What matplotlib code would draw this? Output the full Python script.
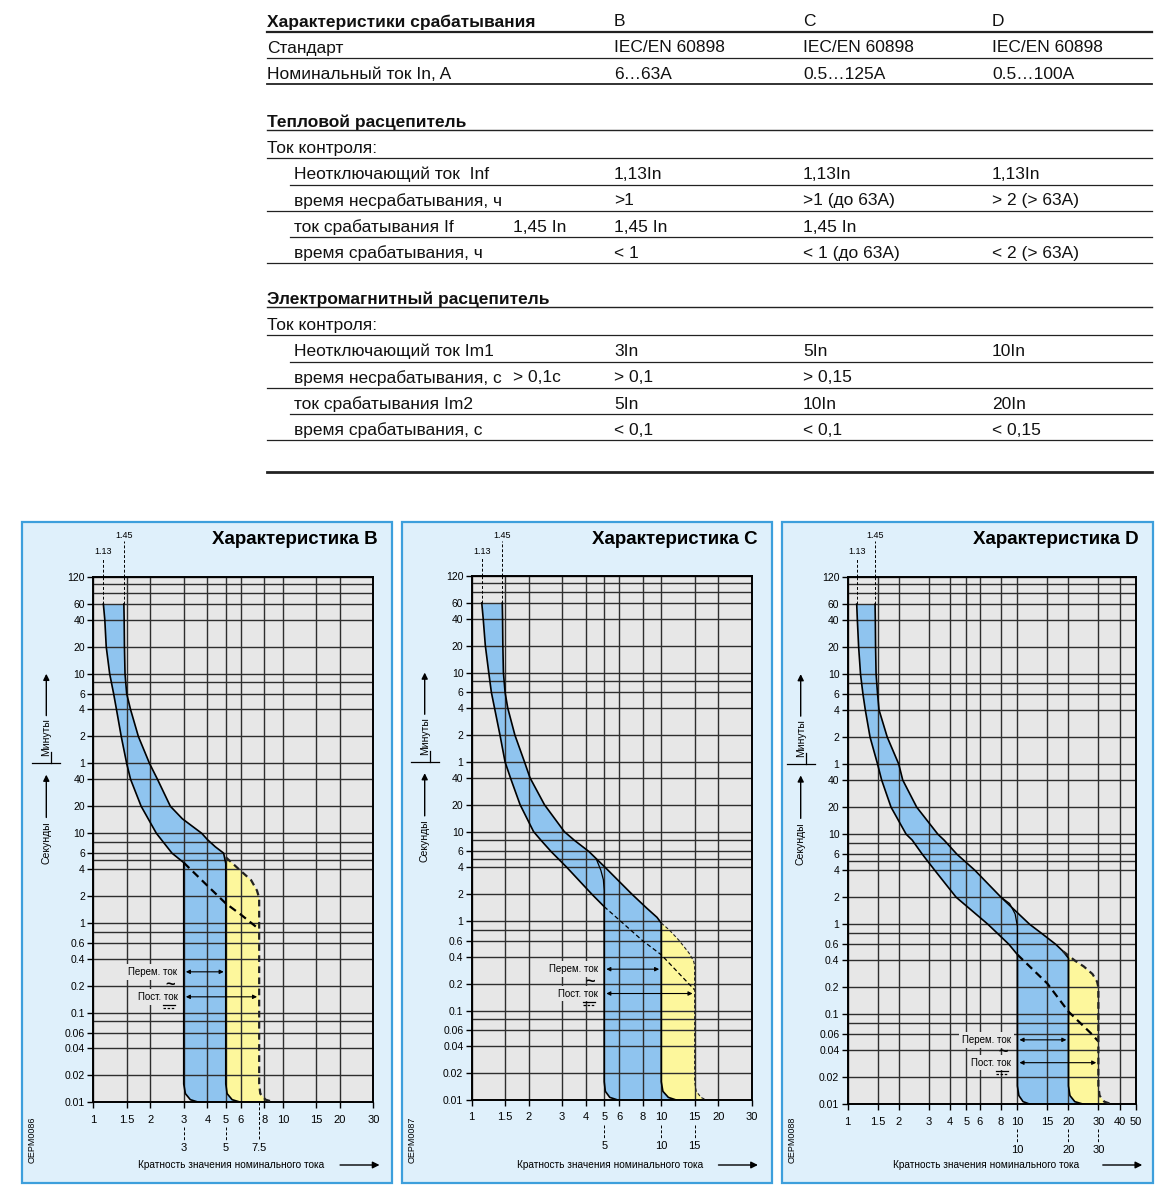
import numpy as np
import matplotlib
matplotlib.use('Agg')
import matplotlib.pyplot as plt
from matplotlib import transforms
from matplotlib.lines import Line2D
from matplotlib.patches import Rectangle, FancyArrowPatch
from matplotlib.ticker import FixedLocator, FixedFormatter, NullLocator, NullFormatter

W, H = 1174, 1200
plt.rcParams['font.family'] = ['Liberation Sans', 'DejaVu Sans']
TAB_FONT = ['Liberation Sans Narrow', 'Liberation Sans', 'DejaVu Sans']

# ---------------- table ----------------
tab_head = 'Характеристики срабатывания'
tab_cols = ['B', 'C', 'D']
gen_labels = ['Стандарт', 'Номинальный ток In, A']
gen_vals = [['IEC/EN 60898', 'IEC/EN 60898', 'IEC/EN 60898'],
            ['6…63A', '0.5…125A', '0.5…100A']]

th_title = 'Тепловой расцепитель'
th_labels = ['Неотключающий ток  Inf', 'время несрабатывания, ч',
             'ток срабатывания If', 'время срабатывания, ч']
th_extra = ['', '', '1,45 In', '']
th_vals = [['1,13In', '1,13In', '1,13In'],
           ['>1', '>1 (до 63A)', '> 2 (> 63A)'],
           ['1,45 In', '1,45 In', ''],
           ['< 1', '< 1 (до 63A)', '< 2 (> 63A)']]

em_title = 'Электромагнитный расцепитель'
em_labels = ['Неотключающий ток Im1', 'время несрабатывания, с',
             'ток срабатывания Im2', 'время срабатывания, с']
em_extra = ['', '> 0,1c', '', '']
em_vals = [['3In', '5In', '10In'],
           ['> 0,1', '> 0,15', ''],
           ['5In', '10In', '20In'],
           ['< 0,1', '< 0,1', '< 0,15']]
ctrl_label = 'Ток контроля:'

# ---------------- chart axes (x = I/In, t in seconds) ----------------
y_major = [7200, 3600, 2400, 1200, 600, 360, 240, 120, 60, 40, 20, 10, 6, 4, 2, 1,
           0.6, 0.4, 0.2, 0.1, 0.06, 0.04, 0.02, 0.01]
y_major_labels = ['120', '60', '40', '20', '10', '6', '4', '2', '1', '40', '20', '10',
                  '6', '4', '2', '1', '0.6', '0.4', '0.2', '0.1', '0.06', '0.04', '0.02', '0.01']
y_minor = [6000, 4800, 480, 8, 5, 0.8, 0.08]

x_ticks_bc = [1, 1.5, 2, 3, 4, 5, 6, 8, 10, 15, 20, 30]
x_ticks_d = [1, 1.5, 2, 3, 4, 5, 6, 8, 10, 15, 20, 30, 40, 50]

thermal_marks = [1.13, 1.45]

# --- characteristic B ---
b_left_x = [1.13, 1.15, 1.17, 1.22, 1.28, 1.325, 1.404, 1.5, 1.572, 1.788, 2.15, 2.6, 3.0,
            3.0, 3.06, 3.25, 3.6]
b_left_t = [3600, 2400, 1200, 600, 360, 240, 120, 60, 40, 20, 10, 6, 4.7,
            0.016, 0.0125, 0.0107, 0.01]
b_right_x = [1.45, 1.455, 1.46, 1.47, 1.5, 1.572, 1.729, 1.98, 2.18, 2.55, 2.95, 3.73, 4.0, 4.4,
             4.87, 5.0, 5.0, 5.08, 5.4, 6.0]
b_right_t = [3600, 2400, 1200, 600, 360, 240, 120, 60, 40, 20, 14.5, 10, 8.5, 7.07,
             6, 4.6, 0.016, 0.0125, 0.0107, 0.01]
b_dc_x = [5.0, 6.0, 6.8, 7.3, 7.5, 7.5, 7.6, 8.1, 9.0]
b_dc_t = [5.4, 3.8, 3.0, 2.3, 1.9, 0.016, 0.0125, 0.0107, 0.01]
b_dash_x = [3, 4, 5, 6, 7.5]
b_dash_t = [4.7, 2.6, 1.65, 1.24, 0.85]
b_marks = [3, 5, 7.5]
b_mark_labels = ['3', '5', '7.5']
b_arrow_t = [0.285, 0.15]

# --- characteristic C ---
c_left_x = [1.13, 1.15, 1.18, 1.23, 1.27, 1.32, 1.41, 1.5, 1.6, 1.8, 2.12, 2.32, 2.62, 3.17, 4.3,
            5.0, 5.0, 5.07, 5.35, 5.9]
c_left_t = [3600, 2400, 1200, 600, 360, 240, 120, 60, 40, 20, 10, 8, 6, 4, 2,
            1.45, 0.016, 0.0125, 0.0107, 0.01]
c_right_x = [1.45, 1.455, 1.46, 1.47, 1.5, 1.55, 1.69, 1.9, 2.03, 2.42, 3.08, 3.48, 4.15, 5.05, 7.0,
             8.4, 9.5, 10.0, 10.0, 10.2, 10.9, 12.0]
c_right_t = [3600, 2400, 1200, 600, 360, 240, 120, 60, 40, 20, 10, 8, 6, 4, 2,
             1.39, 1.1, 0.95, 0.016, 0.0125, 0.0107, 0.01]
c_inner_x = [4.55, 4.8, 4.95, 5.0, 5.0]
c_inner_t = [4.9, 3.7, 2.9, 2.2, 1.45]
c_dc_x = [10.0, 11.0, 12.4, 14.0, 14.8, 15.0, 15.0, 15.3, 16.2, 17.3]
c_dc_t = [0.95, 0.8, 0.61, 0.44, 0.36, 0.32, 0.016, 0.0125, 0.0107, 0.01]
c_dash_x = [5, 8, 10, 15]
c_dash_t = [1.45, 0.6, 0.42, 0.17]
c_marks = [5, 10, 15]
c_mark_labels = ['5', '10', '15']
c_arrow_t = [0.29, 0.155]

# --- characteristic D ---
d_left_x = [1.13, 1.14, 1.16, 1.19, 1.23, 1.27, 1.354, 1.5, 1.585, 1.8, 2.21, 2.4, 2.75, 3.25,
            4.35, 6.7, 8.9, 10.0, 10.0, 10.2, 10.8, 11.9]
d_left_t = [3600, 2400, 1200, 600, 360, 240, 120, 60, 40, 20, 10, 8.6, 6, 4, 2,
            1, 0.6, 0.46, 0.016, 0.0125, 0.0107, 0.01]
d_right_x = [1.45, 1.455, 1.46, 1.47, 1.5, 1.53, 1.71, 2.0, 2.11, 2.55, 3.4, 3.7, 4.4, 5.6, 8.0,
             11.8, 13.8, 16.8, 18.6, 20.0, 20.0, 20.4, 21.8, 24.6]
d_right_t = [3600, 2400, 1200, 600, 360, 240, 120, 60, 40, 20, 10, 8.6, 6, 4, 2,
             1, 0.8, 0.6, 0.5, 0.42, 0.016, 0.0125, 0.0107, 0.01]
d_inner_x = [8.0, 9.0, 9.7, 10.0, 10.0]
d_inner_t = [2.0, 1.7, 1.3, 0.95, 0.46]
d_dc_x = [18.6, 22.0, 24.6, 27.7, 29.5, 30.0, 30.0, 30.5, 32.5, 36.0]
d_dc_t = [0.5, 0.39, 0.34, 0.28, 0.23, 0.2, 0.016, 0.0125, 0.0107, 0.01]
d_dash_x = [10, 15, 20, 27, 30]
d_dash_t = [0.46, 0.22, 0.107, 0.062, 0.05]
d_marks = [10, 20, 30]
d_mark_labels = ['10', '20', '30']
d_arrow_t = [0.052, 0.029]

PANEL_BG = '#dff0fb'
PANEL_EDGE = '#3d9fdc'
PLOT_BG = '#e7e7e7'
GRID = '#2e2e2e'
BLUE = '#8fc4ef'
YELLOW = '#fdf79c'

fig = plt.figure(figsize=(W / 100, H / 100), dpi=100)


def fx(x):
    return x / W


def fy(y):
    return 1 - y / H


def fig_line(x0, y0, x1, y1, lw=1.0, color='#222222'):
    fig.add_artist(Line2D([fx(x0), fx(x1)], [fy(y0), fy(y1)], lw=lw, color=color,
                          transform=fig.transFigure))


def ttext(x, y, s, bold=False):
    fig.text(fx(x), fy(y), s, ha='left', va='center', fontsize=12.5, family=TAB_FONT,
             weight='bold' if bold else 'normal', color='#111111')


# ---- table drawing ----
TX, TI, TE, TR = 267, 294, 513, 1152
col_x = [614, 803, 992]

ttext(TX, 22, tab_head, bold=True)
for cx, c in zip(col_x, tab_cols):
    ttext(cx, 22, c)
fig_line(TX, 31.5, TR, 31.5, lw=1.6)
for i, (lab, vals) in enumerate(zip(gen_labels, gen_vals)):
    y = 48 + i * 26.3
    ttext(TX, y, lab)
    for cx, v in zip(col_x, vals):
        ttext(cx, y, v)
    fig_line(TX, y + 10, TR, y + 10, lw=1.3 if i == 1 else 0.9)


def section(y0, title, labels, extra, vals):
    ttext(TX, y0, title, bold=True)
    fig_line(TX, y0 + 8, TR, y0 + 8, lw=1.0)
    ttext(TX, y0 + 26.3, ctrl_label)
    fig_line(TX, y0 + 36, TR, y0 + 36, lw=0.9)
    for i, (lab, ex, vv) in enumerate(zip(labels, extra, vals)):
        y = y0 + 52.5 + i * 26.3
        ttext(TI, y, lab)
        if ex:
            ttext(TE, y, ex)
        for cx, v in zip(col_x, vv):
            if v:
                ttext(cx, y, v)
        fig_line(TI - 4 if i % 2 == 0 else TX, y + 10, TR, y + 10, lw=0.9)


section(122, th_title, th_labels, th_extra, th_vals)
section(299, em_title, em_labels, em_extra, em_vals)
fig_line(TX, 472, TR, 472, lw=2.0)


# ---- charts ----
def draw_chart(panel, box, title, code, xmax, xticks, left, right, dc, dash, inner,
               marks, mark_labels, arrow_t, heavy):
    p0, q0, p1, q1 = panel
    fig.add_artist(Rectangle((fx(p0), fy(q1)), fx(p1) - fx(p0), fy(q0) - fy(q1),
                             transform=fig.transFigure, fc=PANEL_BG, ec=PANEL_EDGE,
                             lw=1.6, zorder=-1))
    a0, b0, a1, b1 = box
    ax = fig.add_axes([fx(a0), fy(b1), fx(a1) - fx(a0), fy(b0) - fy(b1)])
    ax.set_xscale('log')
    ax.set_yscale('log')
    ax.set_xlim(1, xmax)
    ax.set_ylim(0.01, 7200)
    ax.set_facecolor(PLOT_BG)
    ax.xaxis.set_major_locator(FixedLocator(xticks))
    ax.xaxis.set_major_formatter(FixedFormatter([f'{v:g}' for v in xticks]))
    ax.xaxis.set_minor_locator(NullLocator())
    ax.yaxis.set_major_locator(FixedLocator(y_major))
    ax.yaxis.set_major_formatter(FixedFormatter(y_major_labels))
    ax.yaxis.set_minor_locator(FixedLocator(y_minor))
    ax.yaxis.set_minor_formatter(NullFormatter())
    ax.grid(True, which='both', color=GRID, lw=1.0)
    ax.tick_params(which='minor', length=0)
    ax.tick_params(axis='x', which='major', length=4, width=1, labelsize=8, pad=5)
    ax.tick_params(axis='y', which='major', length=4, width=1, labelsize=7.5, pad=2)
    for s in ax.spines.values():
        s.set_linewidth(1.4)

    lx, lt = left
    rx, rt = right
    dx, dt = dc
    ax.fill(list(lx) + list(rx)[::-1], list(lt) + list(rt)[::-1], color=BLUE, lw=0, zorder=1)
    yx, yt = list(dx), list(dt)
    for x, t in reversed(list(zip(rx, rt))):
        if t < dt[0]:
            yx.append(x)
            yt.append(t)
    ax.fill(yx, yt, color=YELLOW, lw=0, zorder=1)

    ax.plot(lx, lt, color='k', lw=1.2, zorder=3, solid_joinstyle='round')
    ax.plot(rx, rt, color='k', lw=1.2, zorder=3, solid_joinstyle='round')
    if inner is not None:
        ax.plot(inner[0], inner[1], color='k', lw=0.9, zorder=3)
    dlw = 1.6 if heavy else 0.9
    ax.plot(dash[0], dash[1], color='k', lw=dlw, ls=(0, (3.5, 2.2)), zorder=3)
    ax.plot(dx, dt, color='#222222', lw=dlw if heavy else 0.8, ls=(0, (3, 2)), zorder=3)

    # 1.13 / 1.45 markers above the plot
    xtr = transforms.blended_transform_factory(ax.transData, fig.transFigure)
    for xm, lab_y, top_y in zip(thermal_marks, [551, 535], [558, 541]):
        ax.plot([xm, xm], [3600, 7200], color='k', lw=0.7, ls=(0, (3, 2)), zorder=3)
        ax.plot([xm, xm], [fy(b0), fy(top_y)], color='k', lw=0.7, ls=(0, (3, 2)),
                transform=xtr, clip_on=False)
        ax.text(xm, fy(lab_y), f'{xm:.2f}', transform=xtr, ha='center', va='center', fontsize=6.5)

    # instantaneous-trip markers below the axis
    for xm, lab in zip(marks, mark_labels):
        start = b1 + 25 if xm in xticks else b1
        ax.plot([xm, xm], [fy(start), fy(b1 + 38)], color='k', lw=0.7, ls=(0, (3, 2)),
                transform=xtr, clip_on=False)
        ax.text(xm, fy(b1 + 46), lab, transform=xtr, ha='center', va='center', fontsize=8)

    # AC / DC arrows and their labels
    t_ac, t_dc = arrow_t
    x_m1 = marks[0]
    ap = dict(arrowstyle='<|-|>', color='k', lw=0.8, shrinkA=1.5, shrinkB=1.5, mutation_scale=6)
    ax.annotate('', xy=(marks[1], t_ac), xytext=(x_m1, t_ac), arrowprops=ap, zorder=4)
    ax.annotate('', xy=(marks[2], t_dc), xytext=(x_m1, t_dc), arrowprops=ap, zorder=4)
    bb = dict(fc=PLOT_BG, ec='none', pad=2)
    ax.annotate('Перем. ток', xy=(x_m1, t_ac), xytext=(-4.5, 0), textcoords='offset points',
                ha='right', va='center', fontsize=7, bbox=bb, zorder=4)
    ax.annotate('Пост. ток', xy=(x_m1, t_dc), xytext=(-4.5, 0), textcoords='offset points',
                ha='right', va='center', fontsize=7, bbox=bb, zorder=4)
    tm = np.sqrt(t_ac * t_dc)
    ax.annotate('~', xy=(x_m1, tm), xytext=(-10, 0), textcoords='offset points',
                ha='center', va='center', fontsize=12, weight='bold', zorder=5)
    # DC sign (solid bar over three dashes), drawn in pixel offsets from the label anchor
    off = fig.dpi_scale_trans + transforms.ScaledTranslation(x_m1, t_dc, ax.transData)
    ax.add_line(Line2D([-0.21, -0.09], [-0.085, -0.085], transform=off, color='k', lw=0.9,
                       clip_on=False, zorder=5))
    ax.add_line(Line2D([-0.21, -0.09], [-0.115, -0.115], transform=off, color='k', lw=0.9,
                       ls=(0, (2, 1.3)), clip_on=False, zorder=5))

    # title, code, x label
    fig.text(fx(p1 - 14), fy(539), title, ha='right', va='center', fontsize=13.5, weight='bold')
    fig.text(fx(p0 + 10), fy(1140), code, ha='center', va='center', rotation=90, fontsize=6.5)
    fig.text(fx(a0 + 45), fy(1165), 'Кратность значения номинального тока', ha='left',
             va='center', fontsize=7.3)
    fig.add_artist(FancyArrowPatch(
        (fx(a1 - 36), fy(1165)), (fx(a1 + 9), fy(1165)), transform=fig.transFigure,
        arrowstyle='-|>', mutation_scale=10, lw=1.0, color='k'))

    # y-axis side labels (minutes / seconds)
    ytr = transforms.blended_transform_factory(fig.transFigure, ax.transData)
    ax.text(fx(a0 - 47), 118, 'Минуты', transform=ytr, rotation=90, ha='center', va='center',
            fontsize=7.5)
    ax.text(fx(a0 - 47), 7.9, 'Секунды', transform=ytr, rotation=90, ha='center', va='center',
            fontsize=7.5)
    for t0, t1 in [(205, 600), (15, 45)]:
        ax.annotate('', xy=(fx(a0 - 47), t1), xytext=(fx(a0 - 47), t0), xycoords=ytr,
                    textcoords=ytr, arrowprops=dict(arrowstyle='-|>', lw=1.0, color='k',
                                                    mutation_scale=9, shrinkA=0, shrinkB=0))
    ax.plot([fx(a0 - 61), fx(a0 - 33)], [60, 60], transform=ytr, color='k', lw=0.9, clip_on=False)
    ax.plot([fx(a0 - 42), fx(a0 - 42)], [60, 80], transform=ytr, color='k', lw=0.9, clip_on=False)
    return ax


draw_chart((22, 522, 392, 1183), (93.3, 577, 373.3, 1102.3), 'Характеристика B', 'OEPM0086',
           30, x_ticks_bc, (b_left_x, b_left_t), (b_right_x, b_right_t), (b_dc_x, b_dc_t),
           (b_dash_x, b_dash_t), None, b_marks, b_mark_labels, b_arrow_t, True)
draw_chart((402, 522, 772, 1183), (471.7, 576, 751.7, 1100), 'Характеристика C', 'OEPM0087',
           30, x_ticks_bc, (c_left_x, c_left_t), (c_right_x, c_right_t), (c_dc_x, c_dc_t),
           (c_dash_x, c_dash_t), (c_inner_x, c_inner_t), c_marks, c_mark_labels, c_arrow_t, False)
draw_chart((782, 522, 1153, 1183), (847.7, 577, 1136, 1104.3), 'Характеристика D', 'OEPM0088',
           50, x_ticks_d, (d_left_x, d_left_t), (d_right_x, d_right_t), (d_dc_x, d_dc_t),
           (d_dash_x, d_dash_t), (d_inner_x, d_inner_t), d_marks, d_mark_labels, d_arrow_t, True)

fig.savefig('out.png', dpi=100)
